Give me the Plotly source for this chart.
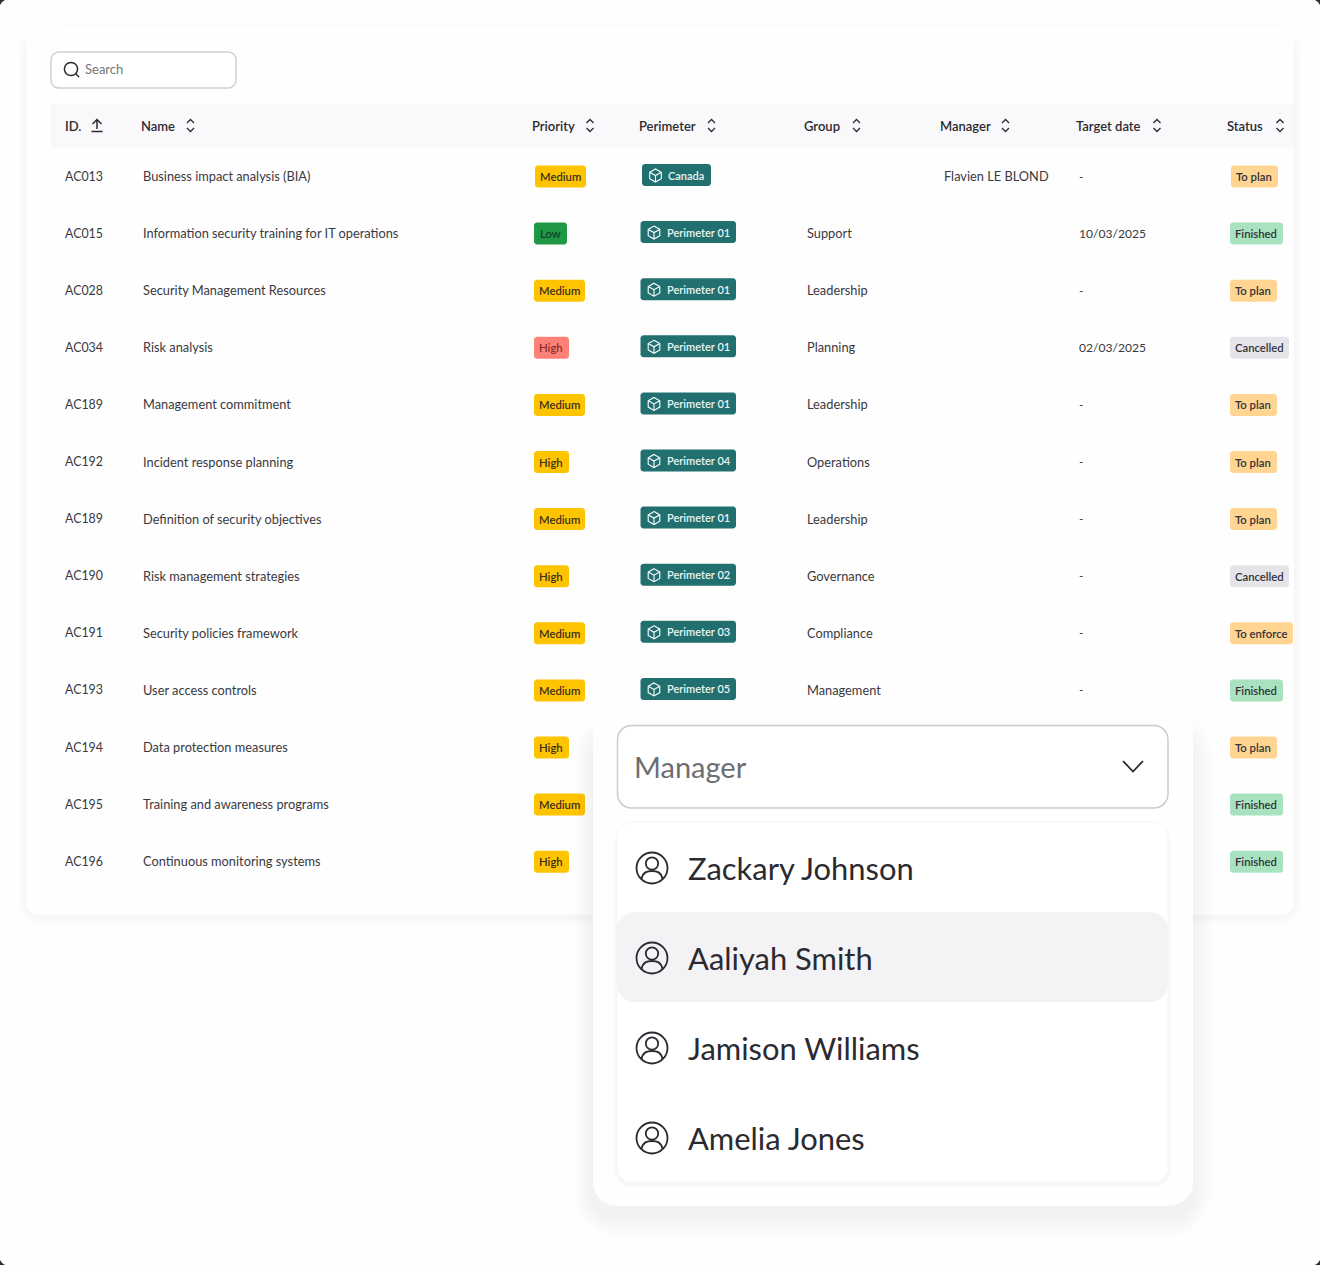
import plotly.graph_objects as go

ids = ["AC013", "AC015", "AC028", "AC034", "AC189", "AC192", "AC189", "AC190", "AC191", "AC193", "AC194", "AC195", "AC196"]
names = ["Business impact analysis (BIA)", "Information security training for IT operations",
         "Security Management Resources", "Risk analysis", "Management commitment",
         "Incident response planning", "Definition of security objectives", "Risk management strategies",
         "Security policies framework", "User access controls", "Data protection measures",
         "Training and awareness programs", "Continuous monitoring systems"]
priorities = ["Medium", "Low", "Medium", "High", "Medium", "High", "Medium", "High", "Medium", "Medium", "High", "Medium", "High"]
perimeters = ["Canada", "Perimeter 01", "Perimeter 01", "Perimeter 01", "Perimeter 01", "Perimeter 04",
              "Perimeter 01", "Perimeter 02", "Perimeter 03", "Perimeter 05"]
groups = ["", "Support", "Leadership", "Planning", "Leadership", "Operations", "Leadership",
          "Governance", "Compliance", "Management"]
managers = ["Flavien LE BLOND"]
dates = ["-", "10/03/2025", "-", "02/03/2025", "-", "-", "-", "-", "-", "-"]
statuses = ["To plan", "Finished", "To plan", "Cancelled", "To plan", "To plan", "To plan", "Cancelled",
            "To enforce", "Finished", "To plan", "Finished", "Finished"]
headers = ["ID.", "Name", "Priority", "Perimeter", "Group", "Manager", "Target date", "Status"]
people = ["Zackary Johnson", "Aaliyah Smith", "Jamison Williams", "Amelia Jones"]

FONT = "Lato"
INK = "#2b2a30"
BODY = "#3a393f"
W, H = 1320, 1265

# pixel widths of the pills
PRIO_W = {"Medium": 51, "High": 35, "Low": 33}
PRIO_FILL = {"Medium": "#FFC400", "High": "#FFC400", "Low": "#1F9845"}
STAT_W = {"To plan": 47, "Finished": 53, "Cancelled": 59, "To enforce": 63}
STAT_FILL = {"To plan": "#FFD591", "Finished": "#A8E2BE", "Cancelled": "#E5E4E8", "To enforce": "#FFD591"}

shapes = []
annotations = []


def rr(x0, y0, x1, y1, r):
    k = r * 0.45
    return (f"M{x0+r},{y0} L{x1-r},{y0} C{x1-k},{y0} {x1},{y0+k} {x1},{y0+r} "
            f"L{x1},{y1-r} C{x1},{y1-k} {x1-k},{y1} {x1-r},{y1} "
            f"L{x0+r},{y1} C{x0+k},{y1} {x0},{y1-k} {x0},{y1-r} "
            f"L{x0},{y0+r} C{x0},{y0+k} {x0+k},{y0} {x0+r},{y0} Z")


def box(x0, y0, x1, y1, r, fill="#FFFFFF", line=None, lw=1):
    shapes.append(dict(type="path", path=rr(x0, y0, x1, y1, r), fillcolor=fill,
                       line=dict(color=line or "rgba(0,0,0,0)", width=lw if line else 0)))


def stroke(path, color=INK, lw=1.3):
    shapes.append(dict(type="path", path=path, line=dict(color=color, width=lw)))


def circle(cx, cy, r, color=INK, lw=1.5):
    shapes.append(dict(type="circle", x0=cx-r, x1=cx+r, y0=cy-r, y1=cy+r, line=dict(color=color, width=lw)))


def text(x, y, s, size=12.8, color=INK, anchor="left", weight=400):
    annotations.append(dict(x=x, y=y, text=s, showarrow=False, xanchor=anchor, yanchor="middle", borderpad=0,
                            font=dict(family=FONT, size=size, color=color, weight=weight)))


def shadow(x0, y0, x1, y1, r, spread, dy, alpha, steps=8):
    for i in range(steps, 0, -1):
        g = spread * i / steps
        box(x0-g, y0-g+dy, x1+g, y1+g+dy, r+g, fill=f"rgba(70,65,75,{alpha})")


def sort_icon(x, y):
    stroke(f"M{x-3.5},{y-2.5} L{x},{y-6} L{x+3.5},{y-2.5}")
    stroke(f"M{x-3.5},{y+2.5} L{x},{y+6} L{x+3.5},{y+2.5}")


def cube(x, y, color="#FFFFFF"):
    stroke(f"M{x},{y-6.5} L{x+5.8},{y-3.2} L{x+5.8},{y+3.2} L{x},{y+6.5} L{x-5.8},{y+3.2} L{x-5.8},{y-3.2} Z", color, 1.1)
    stroke(f"M{x-5.8},{y-3.2} L{x},{y} L{x+5.8},{y-3.2} M{x},{y} L{x},{y+6.5}", color, 1.1)


def avatar(x, y):
    circle(x, y, 15.5, INK, 1.8)
    circle(x, y-4.5, 6.2, INK, 1.8)
    stroke(f"M{x-10.5},{y+11} C{x-9},{y+4} {x-5},{y+3} {x},{y+3} C{x+5},{y+3} {x+9},{y+4} {x+10.5},{y+11}", INK, 1.8)


# page corners behind the rounded mask
for cx, cy in [(0, 0), (W, 0), (0, H), (W, H)]:
    sx = 1 if cx == 0 else -1
    sy = 1 if cy == 0 else -1
    shapes.append(dict(type="path", fillcolor="#2b2a30", line=dict(width=0),
                       path=f"M{cx},{cy} L{cx+5*sx},{cy} Q{cx+1.5*sx},{cy+1.5*sy} {cx},{cy+5*sy} Z"))

# table card
shapes.append(dict(type="line", x0=65, x1=1280, y0=26, y1=26, line=dict(color="#F7F6F8", width=1)))
shadow(26, 36, 1294, 915, 12, 8, 2, 0.005)
box(26, 30, 1294, 915, 12, fill="#FEFEFE")

# search box
box(51, 52, 236, 88, 8, line="#CFCED3", lw=1.4)
circle(71, 69, 6.6, INK, 1.5)
stroke("M76,74 L79,77", INK, 1.5)
text(84, 69, "Search", 13, "#77767C")

# header band
shapes.append(dict(type="rect", x0=51, x1=1294, y0=104, y1=148, fillcolor="#F9F8FA", line=dict(width=0)))
head_x = [63.5, 139.5, 530.5, 637.5, 802.5, 938.5, 1074.5, 1225.5]
sort_x = [None, 190.5, 590, 711.5, 856.5, 1005.5, 1157, 1280]
for hx, sx, label in zip(head_x, sort_x, headers):
    text(hx, 125.5, label, 13, INK, weight=600)
    if sx:
        sort_icon(sx, 125.5)
stroke("M97,129 L97,120 M92.5,124 L97,119.5 L101.5,124", INK, 1.5)
stroke("M91.5,131.5 L102.5,131.5", INK, 1.5)

# rows
ROW0, STEP = 176, 57.1
for i, (id_, name, prio, stat) in enumerate(zip(ids, names, priorities, statuses)):
    y = ROW0 + STEP * i
    text(63.5, y, id_, 12.4, BODY)
    text(141.5, y, name, 12.8, BODY)
    px = 535 if i == 0 else 534
    fill, tcol = PRIO_FILL[prio], "#3a2f1e"
    if i == 3:
        fill, tcol = "#FF8077", "#8a2f2b"
    if prio == "Low":
        tcol = "#15402a"
    box(px, y-10.5, px+PRIO_W[prio], y+11.5, 3, fill=fill)
    text(px+PRIO_W[prio]/2-0.5, y+0.5, prio, 11.3, tcol, "center", 600)
    sx = 1231 if i == 0 else 1230
    box(sx, y-10.5, sx+STAT_W[stat], y+11.5, 3, fill=STAT_FILL[stat])
    text(sx+STAT_W[stat]/2-0.5, y+0.5, stat, 11.3, "#33323a", "center", 600)

for i, (peri, grp, date) in enumerate(zip(perimeters, groups, dates)):
    y = ROW0 + STEP * i
    px, pw = (642, 69) if peri == "Canada" else (640.5, 95.5)
    box(px, y-12, px+pw, y+10, 3, fill="#21706F")
    cube(px+13.5, y-0.5)
    text(px+25, y-1, peri, 11, "#EAF4F3", weight=600)
    if grp:
        text(805.5, y, grp, 12.8, BODY)
    text(1078, y, date, 12.1, BODY)
for i, mgr in enumerate(managers):
    text(942.5, ROW0 + STEP * i, mgr, 12.8, BODY)

# manager dropdown panel
shadow(593, 720, 1193, 1206, 24, 20, 12, 0.003, steps=12)
box(593, 705, 1193, 1206, 24, fill="#FEFEFE")
box(617.5, 725.5, 1168, 808, 14, line="#CBCACF", lw=1.5)
text(632.5, 766, "Manager", 29, "#6e6d73")
stroke("M1123,761 L1133,771.5 L1143,761", INK, 1.8)

shadow(617, 830, 1168, 1182, 14, 4, 2, 0.012, steps=4)
box(617, 822, 1168, 1182, 14, fill="#FFFFFF", line="#F7F6F8", lw=1)
box(617, 912, 1168, 1002, 18, fill="#F3F2F4")
for i, person in enumerate(people):
    y = 868 + 90 * i
    avatar(652, y)
    text(686.5, y, person, 30.9, INK)

fig = go.Figure()
fig.update_layout(width=W, height=H, margin=dict(l=0, r=0, t=0, b=0), autosize=False,
                  paper_bgcolor="#FEFEFE", plot_bgcolor="#FEFEFE", showlegend=False,
                  shapes=shapes, annotations=annotations,
                  xaxis=dict(range=[0, W], visible=False, fixedrange=True),
                  yaxis=dict(range=[H, 0], visible=False, fixedrange=True))
fig.write_html("out.html", config=dict(displayModeBar=False),
               post_script="document.body.style.margin='0';")
